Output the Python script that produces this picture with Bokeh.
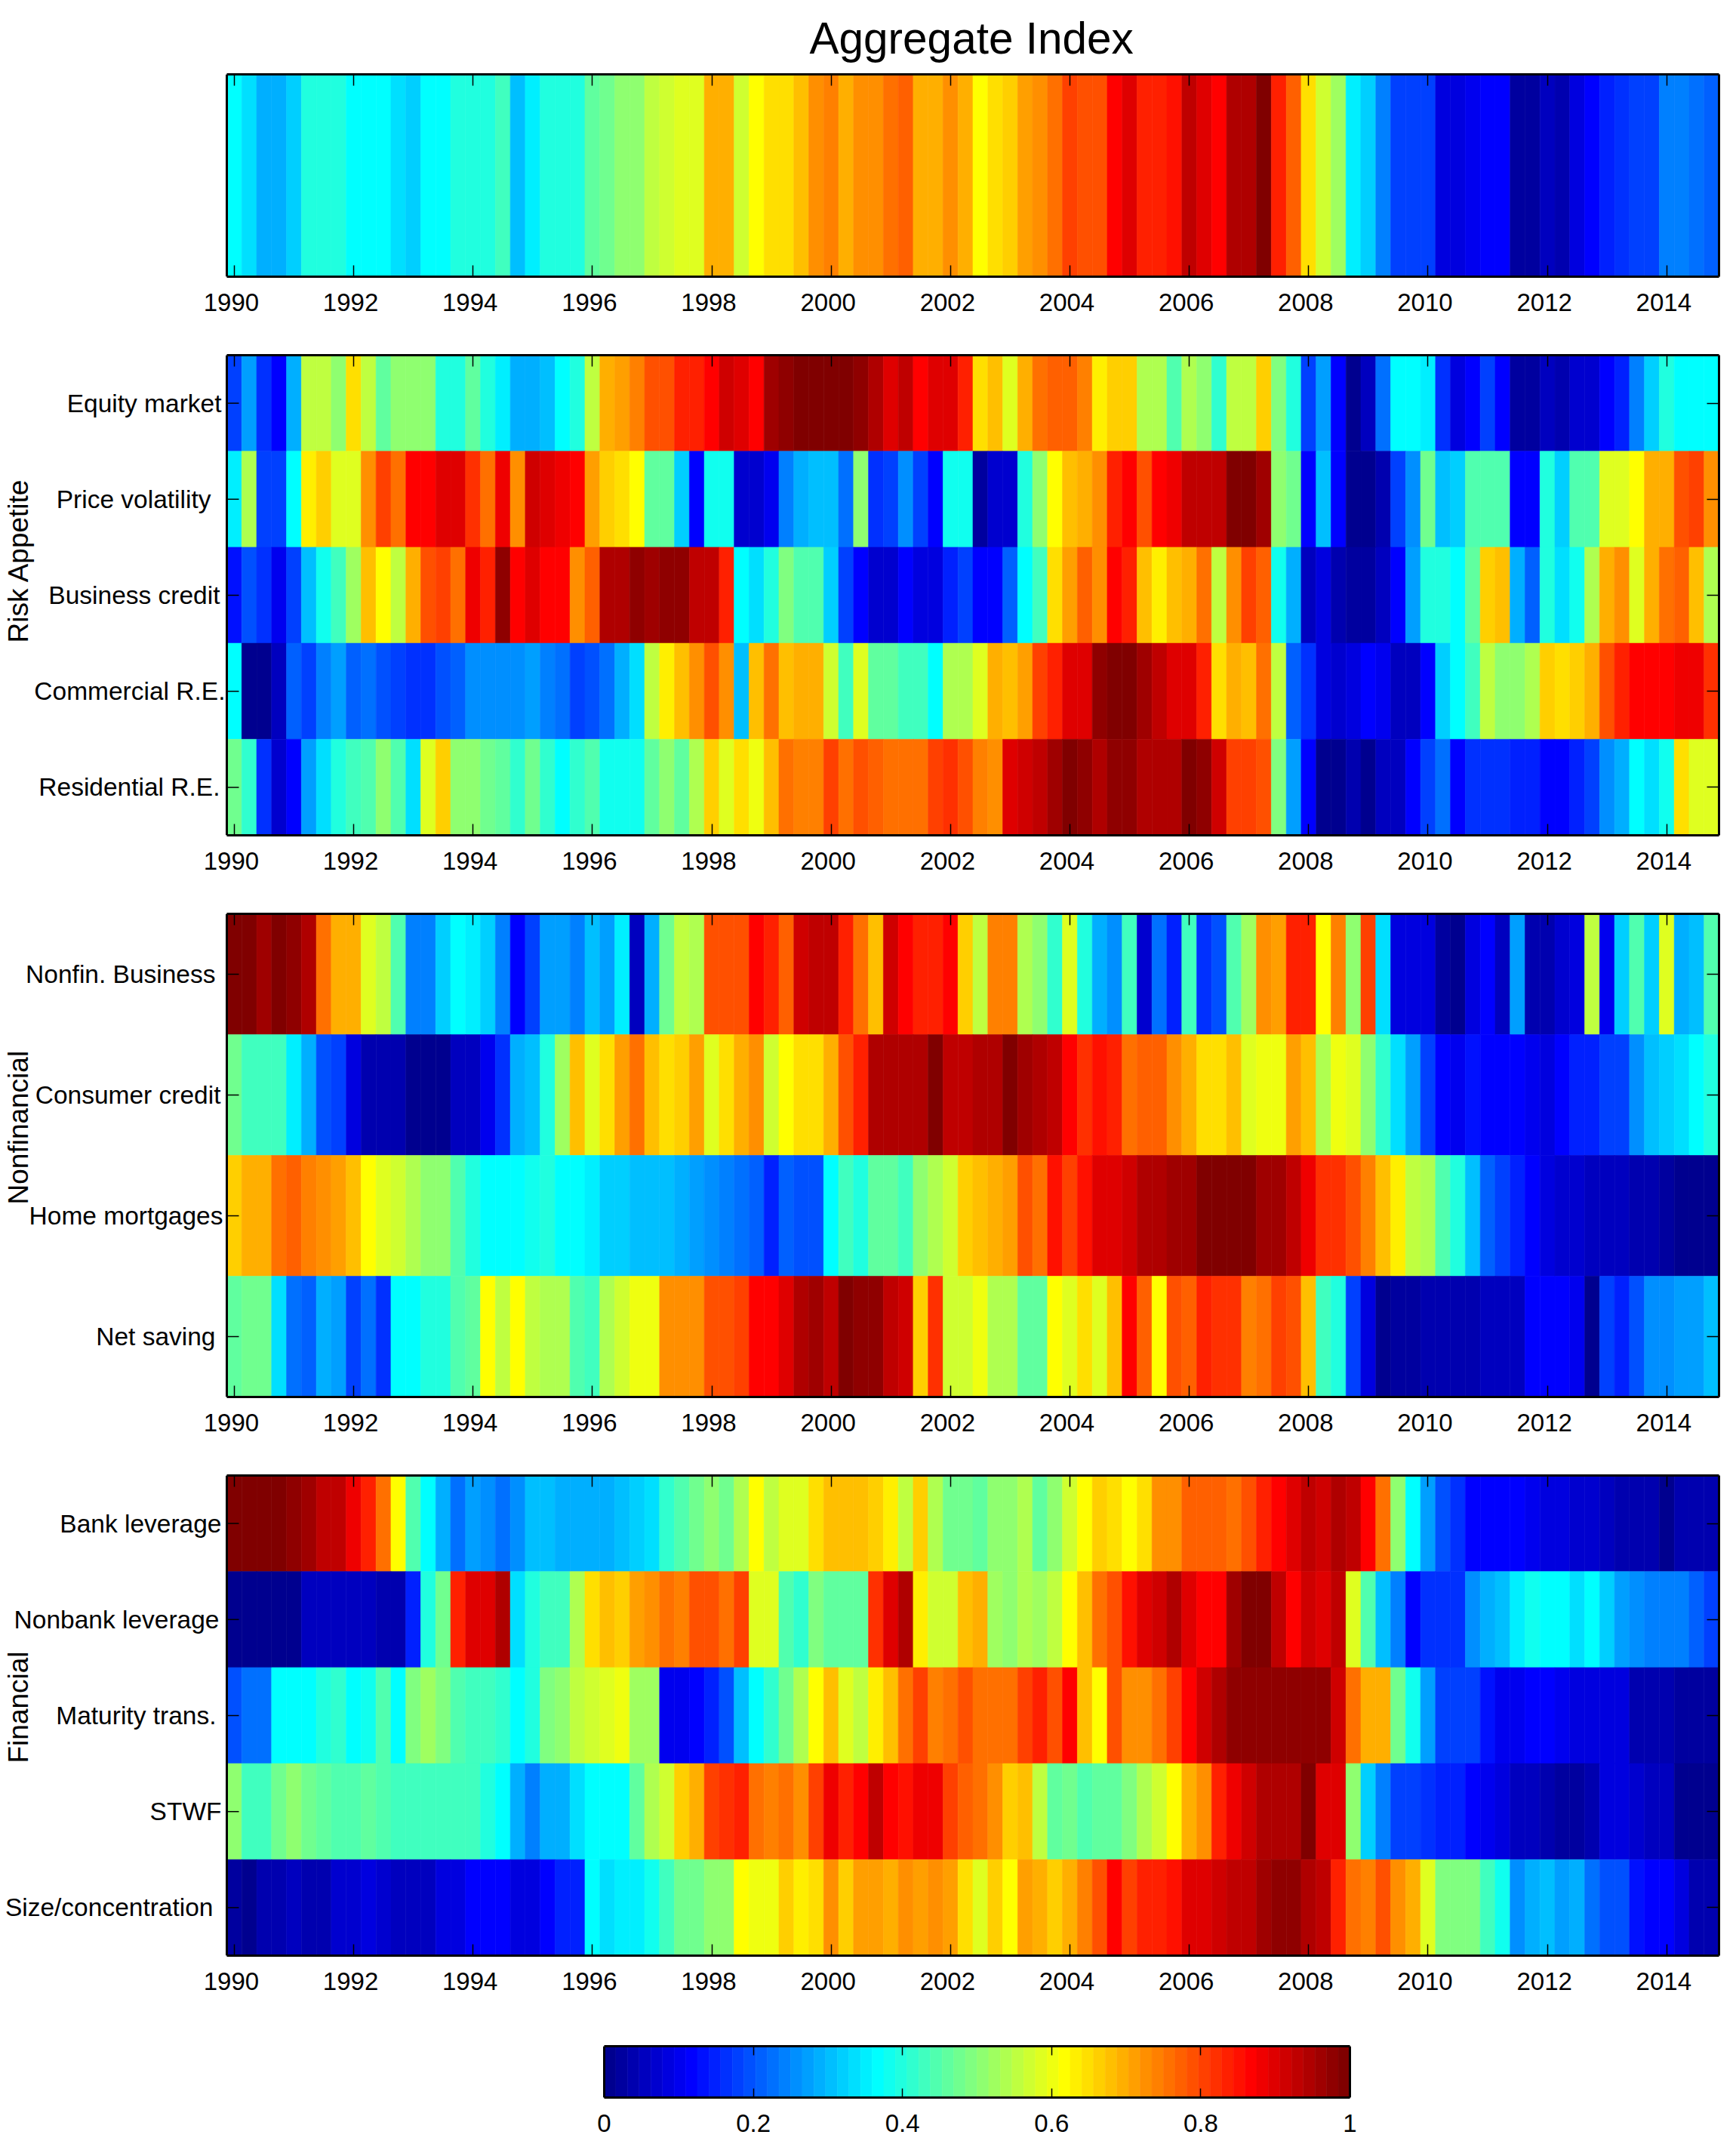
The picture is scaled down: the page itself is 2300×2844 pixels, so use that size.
import math
from bokeh.core.properties import value
from bokeh.embed import file_html
from bokeh.layouts import column
from bokeh.models import ColumnDataSource, FixedTicker, LinearAxis, LinearColorMapper, Range1d, Title
from bokeh.plotting import figure
from bokeh.resources import INLINE
from bokeh.transform import transform

# ---- data (levels on a 0..1 scale, one value per quarter, 1990Q1..2014Q4) ----
years = [1990 + i * 0.25 for i in range(100)]
year_ticks = list(range(1990, 2015, 2))
cbar_ticks = [0, 0.2, 0.4, 0.6, 0.8, 1]

aggregate = [.37,.34,.29,.29,.33,.41,.41,.40,.38,.38, .38,.34,.33,.37,.37,.40,.41,.41,.44,.31,
 .36,.40,.40,.41,.47,.48,.52,.52,.57,.58, .60,.60,.70,.70,.58,.63,.65,.66,.69,.73,
 .75,.71,.74,.74,.76,.78,.71,.71,.73,.71, .63,.65,.67,.72,.73,.77,.81,.79,.79,.88,
 .91,.84,.85,.86,.93,.91,.88,.95,.95,1, .84,.78,.66,.58,.53,.36,.33,.25,.19,.19,
 .18,.10,.09,.11,.13,.12,.03,.03,.06,.05, .09,.12,.15,.17,.18,.19,.25,.25,.24,.22]

equity_market = [.19,.28,.17,.12,.29,.57,.57,.51,.65,.57, .47,.51,.51,.51,.41,.40,.47,.41,.36,.29,
 .30,.31,.38,.41,.57,.71,.72,.75,.80,.80, .85,.85,.87,.92,.90,.88,.97,.98,1,1,
 1,1,.98,.95,.90,.93,.88,.90,.90,.84, .65,.68,.60,.70,.76,.78,.78,.75,.64,.67,
 .67,.55,.55,.46,.55,.51,.42,.56,.56,.67, .50,.41,.18,.28,.12,.02,.06,.24,.37,.37,
 .36,.17,.09,.12,.18,.13,.03,.03,.07,.05, .08,.08,.12,.16,.25,.33,.41,.38,.38,.38]
price_volatility = [.36,.55,.19,.19,.37,.64,.67,.60,.60,.73, .81,.77,.87,.87,.91,.90,.83,.77,.89,.74,
 .92,.91,.89,.88,.72,.67,.66,.63,.47,.47, .33,.13,.39,.39,.08,.08,.11,.25,.29,.32,
 .32,.24,.51,.17,.18,.27,.18,.13,.39,.39, .03,.08,.08,.40,.52,.63,.69,.70,.74,.84,
 .87,.80,.88,.89,.94,.93,.94,1,1,.97, .52,.48,.12,.31,.13,.02,.02,.05,.19,.27,
 .48,.31,.33,.46,.46,.46,.12,.12,.40,.33, .45,.46,.60,.60,.63,.70,.71,.79,.81,.74]
business_credit = [.14,.20,.17,.11,.18,.31,.39,.44,.53,.68, .63,.56,.71,.79,.81,.77,.89,.85,.99,.87,
 .90,.87,.88,.73,.78,.95,.95,.99,.97,.99, .99,.93,.93,.85,.38,.35,.41,.50,.45,.45,
 .33,.19,.13,.08,.08,.12,.09,.09,.15,.18, .12,.12,.22,.38,.43,.65,.72,.78,.74,.88,
 .85,.69,.64,.68,.70,.77,.56,.74,.82,.78, .39,.29,.07,.09,.04,.03,.03,.06,.12,.28,
 .41,.41,.38,.47,.67,.69,.30,.22,.40,.35, .39,.54,.71,.73,.60,.71,.76,.78,.68,.55]
commercial_re = [.37,.01,.01,.06,.22,.19,.25,.28,.22,.24, .21,.19,.17,.17,.20,.22,.26,.26,.26,.27,
 .28,.25,.23,.18,.21,.24,.29,.34,.56,.64, .68,.74,.80,.73,.31,.68,.77,.69,.70,.70,
 .58,.43,.60,.47,.47,.44,.44,.37,.55,.55, .59,.71,.68,.72,.82,.85,.90,.91,.98,1,
 1,.97,.93,.90,.90,.85,.65,.71,.69,.76, .56,.22,.17,.09,.08,.10,.13,.11,.06,.07,
 .12,.33,.38,.44,.57,.52,.52,.55,.67,.65, .67,.71,.79,.84,.88,.88,.88,.89,.89,.83]
residential_re = [.48,.42,.17,.08,.13,.28,.34,.40,.44,.46, .51,.45,.35,.60,.67,.52,.52,.49,.47,.42,
 .49,.42,.37,.42,.45,.39,.39,.39,.47,.52, .47,.55,.67,.59,.65,.61,.69,.76,.75,.75,
 .81,.76,.79,.78,.77,.77,.77,.81,.83,.80, .75,.73,.90,.92,.94,.97,1,.98,.96,.99,
 .98,.95,.96,.95,1,.98,.92,.81,.81,.79, .50,.28,.12,.01,.01,.04,.02,.07,.07,.12,
 .18,.24,.12,.17,.17,.17,.16,.15,.12,.13, .16,.19,.27,.29,.38,.34,.39,.65,.60,.60]

nonfin_business = [1,1,.97,1,.98,.95,.77,.70,.70,.60, .57,.46,.25,.25,.33,.37,.36,.33,.25,.13,
 .19,.28,.28,.25,.32,.28,.36,.06,.30,.48, .56,.54,.80,.80,.80,.87,.84,.78,.92,.94,
 .93,.84,.76,.69,.92,.87,.85,.85,.88,.67, .56,.75,.75,.55,.52,.42,.60,.41,.29,.26,
 .43,.08,.24,.16,.44,.17,.21,.46,.53,.73, .72,.84,.85,.63,.75,.51,.81,.35,.10,.09,
 .10,.03,.02,.09,.12,.07,.28,.04,.04,.08, .10,.57,.11,.33,.45,.33,.60,.30,.31,.45]
consumer_credit = [.49,.44,.44,.44,.36,.30,.20,.18,.09,.05, .05,.04,.02,.02,.02,.07,.07,.11,.17,.29,
 .31,.41,.53,.68,.60,.66,.72,.77,.68,.65, .67,.72,.60,.66,.70,.73,.58,.63,.65,.65,
 .70,.79,.84,.95,.96,.96,.96,1,.94,.94, .96,.96,1,.97,.95,.93,.88,.83,.86,.84,
 .76,.78,.78,.73,.71,.65,.66,.68,.60,.61, .61,.72,.69,.55,.61,.59,.51,.42,.35,.28,
 .18,.12,.11,.14,.12,.12,.12,.11,.10,.12, .16,.16,.19,.19,.26,.31,.33,.35,.37,.40]
home_mortgages = [.67,.70,.71,.76,.78,.75,.74,.72,.69,.63, .60,.58,.54,.52,.52,.45,.40,.37,.38,.38,
 .39,.40,.38,.37,.36,.33,.33,.32,.31,.31, .30,.28,.26,.25,.24,.22,.16,.22,.21,.21,
 .38,.44,.40,.47,.47,.44,.51,.54,.58,.67, .69,.71,.72,.79,.76,.86,.82,.86,.90,.90,
 .92,.95,.95,.97,.97,1,1,1,1,.97, .97,.94,.89,.83,.83,.80,.75,.69,.64,.57,
 .54,.45,.41,.31,.22,.18,.15,.13,.09,.08, .08,.07,.07,.07,.05,.04,.03,.02,.02,.02]
net_saving = [.47,.49,.49,.34,.24,.22,.29,.28,.18,.24, .17,.38,.38,.40,.41,.46,.47,.62,.57,.63,
 .57,.54,.54,.46,.43,.54,.58,.61,.61,.74, .74,.74,.80,.79,.82,.88,.88,.90,.95,.97,
 .94,1,.98,.98,.94,.92,.67,.83,.58,.58, .61,.54,.55,.47,.47,.63,.60,.65,.60,.68,
 .88,.78,.63,.80,.78,.85,.83,.83,.75,.77, .82,.80,.68,.44,.40,.18,.09,.02,.03,.03,
 .04,.04,.05,.05,.07,.07,.07,.12,.12,.12, .11,.02,.18,.15,.20,.26,.26,.28,.28,.31]

bank_leverage = [1,1,1,1,.98,.97,.93,.93,.89,.84, .76,.63,.45,.37,.29,.24,.28,.27,.24,.26,
 .32,.32,.30,.30,.29,.29,.31,.33,.35,.42, .46,.48,.52,.49,.54,.62,.56,.59,.59,.65,
 .68,.68,.68,.67,.64,.56,.67,.54,.49,.49, .47,.52,.51,.55,.47,.52,.58,.63,.67,.65,
 .63,.65,.73,.73,.78,.78,.78,.76,.80,.84, .88,.91,.93,.92,.95,.93,.88,.77,.52,.37,
 .28,.20,.17,.13,.13,.12,.12,.11,.09,.09, .08,.08,.06,.05,.05,.04,.02,.04,.04,.04]
nonbank_leverage = [.01,.01,.01,.02,.02,.06,.07,.07,.06,.07, .05,.05,.15,.41,.48,.84,.91,.91,.95,.35,
 .40,.43,.43,.55,.65,.68,.67,.72,.74,.77, .75,.80,.80,.76,.81,.59,.59,.45,.42,.50,
 .47,.47,.47,.83,.90,.95,.64,.58,.58,.69, .71,.53,.52,.54,.53,.57,.63,.69,.76,.80,
 .86,.90,.92,.95,.90,.87,.87,.97,1,1, .94,.88,.92,.90,.93,.60,.45,.31,.25,.13,
 .17,.17,.17,.27,.29,.31,.36,.39,.38,.38, .35,.37,.33,.28,.26,.25,.25,.25,.22,.18]
maturity_trans = [.21,.23,.23,.37,.37,.37,.40,.42,.37,.39, .45,.37,.50,.53,.50,.46,.44,.44,.42,.38,
 .40,.50,.52,.57,.58,.59,.61,.53,.53,.11, .11,.12,.16,.20,.31,.38,.42,.48,.54,.63,
 .68,.60,.57,.64,.69,.77,.81,.75,.76,.79, .77,.77,.77,.82,.84,.80,.88,.69,.63,.80,
 .74,.74,.77,.81,.88,.92,.95,.98,.98,.98, .98,.99,.99,.99,.92,.76,.70,.71,.49,.39,
 .28,.18,.18,.18,.14,.11,.11,.12,.13,.11, .10,.09,.09,.09,.05,.05,.04,.03,.03,.03]
stwf = [.51,.44,.44,.49,.51,.49,.47,.45,.46,.47, .45,.43,.43,.43,.43,.44,.43,.41,.38,.30,
 .25,.29,.29,.34,.37,.37,.37,.47,.54,.58, .67,.70,.81,.83,.85,.77,.75,.76,.74,.81,
 .89,.84,.88,.94,.88,.86,.89,.89,.81,.78, .76,.73,.67,.69,.56,.47,.49,.45,.47,.47,
 .50,.55,.58,.63,.70,.74,.84,.89,.92,.96, .96,.96,1,.90,.90,.51,.33,.25,.19,.18,
 .17,.15,.15,.12,.11,.10,.07,.06,.04,.03, .03,.05,.09,.09,.08,.06,.06,.02,.02,.02]
size_concentration = [.03,.01,.04,.04,.06,.04,.05,.08,.08,.09, .08,.07,.07,.07,.09,.10,.12,.12,.12,.09,
 .09,.12,.15,.16,.38,.34,.36,.36,.39,.44, .48,.48,.52,.52,.63,.61,.61,.67,.64,.66,
 .73,.67,.72,.72,.70,.74,.72,.74,.72,.65, .60,.67,.63,.72,.70,.67,.71,.75,.80,.88,
 .82,.84,.85,.86,.90,.90,.92,.94,.94,.97, .99,.98,.96,.93,.85,.76,.75,.80,.74,.70,
 .59,.50,.50,.50,.44,.39,.27,.29,.32,.28, .29,.24,.20,.20,.14,.13,.12,.09,.05,.05]

risk_names = ["Equity market", "Price volatility", "Business credit", "Commercial R.E.", "Residential R.E."]
risk_series = [equity_market, price_volatility, business_credit, commercial_re, residential_re]
nonfin_names = ["Nonfin. Business", "Consumer credit", "Home mortgages", "Net saving"]
nonfin_series = [nonfin_business, consumer_credit, home_mortgages, net_saving]
fin_names = ["Bank leverage", "Nonbank leverage", "Maturity trans.", "STWF", "Size/concentration"]
fin_series = [bank_leverage, nonbank_leverage, maturity_trans, stwf, size_concentration]

for s in [aggregate] + risk_series + nonfin_series + fin_series:
    assert len(s) == 100

# ---- styling / layout ----
FONT = "Liberation Sans"
TICK_SIZE = "33px"
ROW_LABEL_SIZE = "33.5px"
PANEL_LEFT = 300      # pixels of label room kept inside the frame, left of the heat map
PANEL_W = 1977
RIGHT_PAD = 16
BOX_W = 3
TICK_W = 1.5
LABEL_SHIFT = 4       # year labels sit this many pixels left of their ticks


def jet(n=64):
    out = []
    for i in range(n):
        v = (i + 1) / n
        r = min(max(min(4 * v - 1.5, -4 * v + 4.5), 0), 1)
        g = min(max(min(4 * v - 0.5, -4 * v + 3.5), 0), 1)
        b = min(max(min(4 * v + 0.5, -4 * v + 2.5), 0), 1)
        out.append("#%02x%02x%02x" % (round(r * 255), round(g * 255), round(b * 255)))
    return out


mapper = LinearColorMapper(palette=jet(), low=1 / 128, high=1 + 1 / 128)


def make_axis(ticks, in_len, bounds=None, labelled=False, **kw):
    opts = dict(ticker=FixedTicker(ticks=ticks), axis_line_color="black", axis_line_width=BOX_W,
                major_tick_in=in_len, major_tick_out=0, major_tick_line_width=TICK_W,
                minor_tick_line_color=None, major_tick_line_color="black")
    if bounds is not None:
        opts["bounds"] = bounds
    if labelled:
        opts.update(major_label_text_font=FONT, major_label_text_font_size=TICK_SIZE,
                    major_label_standoff=22, major_label_text_color="black")
    else:
        opts["major_label_overrides"] = {t: "" for t in ticks}
    opts.update(kw)
    return LinearAxis(**opts)


def base_figure(frame_h, top, bottom, xr, yr):
    p = figure(frame_width=PANEL_LEFT + PANEL_W, frame_height=frame_h, x_range=xr, y_range=yr,
               output_backend="svg", toolbar_location=None, tools="",
               min_border_left=0, min_border_right=RIGHT_PAD,
               min_border_top=top, min_border_bottom=bottom,
               x_axis_location=None, y_axis_location=None,
               background_fill_color="white", border_fill_color="white")
    p.grid.visible = False
    p.outline_line_color = None
    return p


def heat_panel(names, series, frame_h, top, bottom, gaps=None, group=None, group_off=255):
    n = len(series)
    left, right, low, high, val = [], [], [], [], []
    for r, s in enumerate(series):
        for yr, v in zip(years, s):
            left.append(yr - 0.125)
            right.append(yr + 0.125)
            low.append(n - r - 1)
            high.append(n - r)
            val.append(v)
    x0 = years[0] - 0.125
    x1 = years[-1] + 0.125
    per_px = (x1 - x0) / PANEL_W
    xr = Range1d(x0 - PANEL_LEFT * per_px, x1)
    p = base_figure(frame_h, top, bottom, xr, Range1d(0, n))
    p.extra_x_ranges["labels"] = Range1d(xr.start + LABEL_SHIFT * per_px, xr.end + LABEL_SHIFT * per_px)
    src = ColumnDataSource(dict(left=left, right=right, bottom=low, top=high, val=val))
    cmap = transform("val", mapper)
    p.quad(left="left", right="right", bottom="bottom", top="top", source=src,
           fill_color=cmap, line_color=cmap, line_width=0.6)
    p.segment(x0=[x0], x1=[x0], y0=[0], y1=[n], line_color="black", line_width=BOX_W)
    yticks = [n - r - 0.5 for r in range(n)] if names else []
    p.add_layout(make_axis(year_ticks, 15, bounds=(x0, x1)), "below")
    p.add_layout(make_axis(year_ticks, 0, bounds=(x0, x1), labelled=True, x_range_name="labels",
                           axis_line_color=None, major_tick_line_color=None), "below")
    p.add_layout(make_axis(year_ticks, 15, bounds=(x0, x1)), "above")
    p.add_layout(make_axis(yticks, 16), "right")
    if names:
        p.segment(x0=[x0] * n, x1=[x0 + 16 * per_px] * n, y0=yticks, y1=yticks,
                  line_color="black", line_width=TICK_W)
        p.text(x=[x0] * n, y=yticks, text=names, x_offset=gaps, y_offset=[0] * n,
               text_align="right", text_baseline="middle",
               text_font=value(FONT), text_font_size=value(ROW_LABEL_SIZE), text_color="black")
    if group:
        p.text(x=[x0 - 276 * per_px], y=[0], text=[group], y_offset=[-group_off], angle=math.pi / 2,
               text_align="left", text_baseline="alphabetic",
               text_font=value(FONT), text_font_size=value("37px"), text_color="black")
    return p


p1 = heat_panel(None, [aggregate], 268, 98, 52)
p1.add_layout(Title(text="Aggregate Index", align="left", offset=1072, standoff=31,
                    text_font=FONT, text_font_size="58.5px", text_font_style="normal",
                    text_color="black"), "above")
p2 = heat_panel(risk_names, risk_series, 636, 52, 52, [-7, -21, -9, -2, -9], "Risk Appetite")
p3 = heat_panel(nonfin_names, nonfin_series, 640, 52, 52, [-15, -8, -5, -15], "Nonfinancial")
p4 = heat_panel(fin_names, fin_series, 636, 52, 68, [-7, -10, -14, -7, -18], "Financial")

# colour bar: same frame width; the range is widened so that 0..1 covers the bar's span
BAR_LEFT = 800
BAR_W = 988
total_w = PANEL_LEFT + PANEL_W
pc = base_figure(68, 52, 60, Range1d(-BAR_LEFT / BAR_W, (total_w - BAR_LEFT) / BAR_W), Range1d(0, 1))
levels = [(i + 1) / 64 for i in range(64)]
csrc = ColumnDataSource(dict(left=[i / 64 for i in range(64)], right=[(i + 1) / 64 for i in range(64)],
                             bottom=[0] * 64, top=[1] * 64, val=levels))
ccmap = transform("val", mapper)
pc.quad(left="left", right="right", bottom="bottom", top="top", source=csrc,
        fill_color=ccmap, line_color=ccmap, line_width=0.6)
pc.segment(x0=[0, 1], x1=[0, 1], y0=[0, 0], y1=[1, 1], line_color="black", line_width=BOX_W)
pc.add_layout(make_axis(cbar_ticks[1:-1], 12, bounds=(0, 1)), "above")
pc.add_layout(make_axis(cbar_ticks, 12, bounds=(0, 1), labelled=True,
                        major_label_overrides={0: "0", 1: "1"}), "below")

page = column(p1, p2, p3, p4, pc, spacing=0)
open("out.html", "w").write(file_html(page, INLINE))
